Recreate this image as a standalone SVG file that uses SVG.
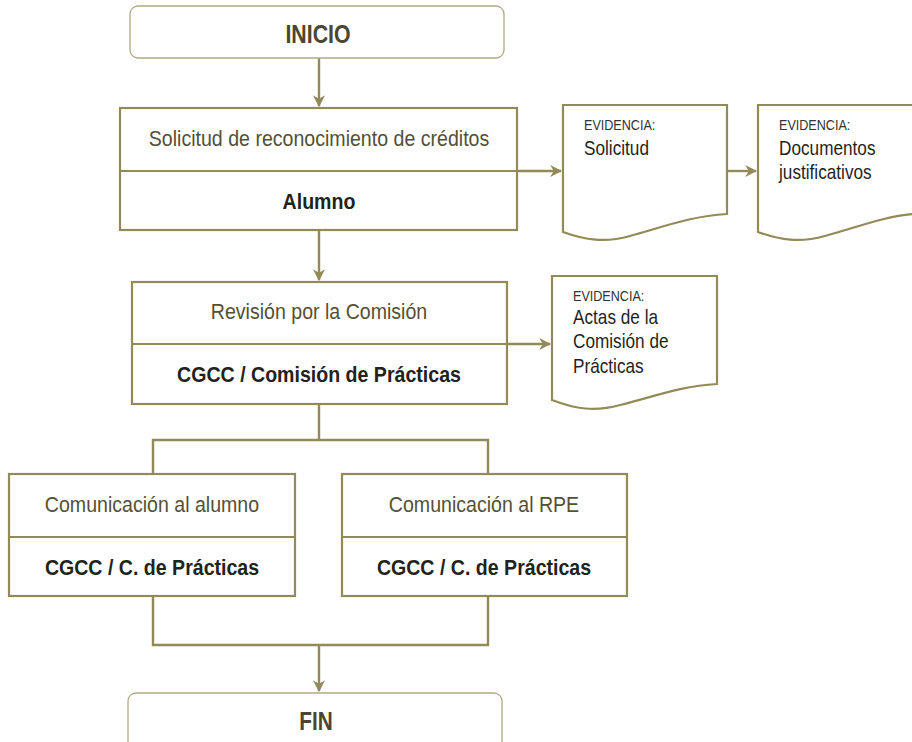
<svg xmlns="http://www.w3.org/2000/svg" width="912" height="742" viewBox="0 0 912 742">
<defs>
<style>
.term{fill:#fff;stroke:#b3aa82;stroke-width:1.3}
.box{fill:#fff;stroke:#928a58;stroke-width:2.2}
.doc{fill:#fff;stroke:#928a58;stroke-width:2.2}
.con{fill:none;stroke:#928a58;stroke-width:2.4}
text{font-family:"Liberation Sans",Arial,sans-serif}
.t1{font-size:22px;fill:#545035;text-anchor:middle}
.t2{font-size:22px;font-weight:bold;fill:#222219;text-anchor:middle}
.tt{font-size:26px;font-weight:bold;fill:#4b4631;text-anchor:middle}
.ev{font-size:14px;fill:#333}
.ed{font-size:20px;fill:#1f1f1f}
</style>
<marker id="ah" viewBox="0 0 10 10" refX="9" refY="5" markerWidth="5" markerHeight="5" orient="auto" markerUnits="strokeWidth">
<path d="M0,0 L10,5 L0,10 L3,5 z" fill="#928a58"/>
</marker>
</defs>
<g id="connectors">
<line class="con" x1="319" y1="58" x2="319" y2="106" marker-end="url(#ah)"/>
<line class="con" x1="319" y1="230" x2="319" y2="280" marker-end="url(#ah)"/>
<line class="con" x1="517" y1="171" x2="561" y2="171" marker-end="url(#ah)"/>
<line class="con" x1="727" y1="171" x2="756" y2="171" marker-end="url(#ah)"/>
<line class="con" x1="507" y1="344" x2="550" y2="344" marker-end="url(#ah)"/>
<polyline class="con" points="319,404 319,440"/>
<polyline class="con" points="153,474 153,440 488,440 488,474"/>
<polyline class="con" points="153,596 153,645 488,645 488,596"/>
<line class="con" x1="319" y1="645" x2="319" y2="691" marker-end="url(#ah)"/>
</g>
<g id="inicio">
<rect class="term" x="130" y="6" width="374" height="52" rx="8"/>
<text class="tt" transform="translate(318,43) scale(0.82,1)">INICIO</text>
</g>
<g id="solicitud">
<rect class="box" x="120" y="108" width="397" height="122"/>
<line class="box" x1="120" y1="171" x2="517" y2="171"/>
<text class="t1" transform="translate(319,146) scale(0.89,1)">Solicitud de reconocimiento de créditos</text>
<text class="t2" transform="translate(319,209) scale(0.89,1)">Alumno</text>
</g>
<g id="ev-solicitud">
<path class="doc" d="M563,105 H727 V214 C690,216 660,228 630,236 C605,243 585,240 563,232 Z"/>
<text class="ev" transform="translate(584,130) scale(0.9,1)">EVIDENCIA:</text>
<text class="ed" transform="translate(584,155) scale(0.86,1)">Solicitud</text>
</g>
<g id="ev-documentos">
<path class="doc" d="M758,105 H914 V214 C885,216 855,228 825,236 C800,243 780,240 758,232 Z"/>
<text class="ev" transform="translate(779,130) scale(0.9,1)">EVIDENCIA:</text>
<text class="ed" transform="translate(779,155) scale(0.86,1)">Documentos</text>
<text class="ed" transform="translate(779,179) scale(0.86,1)">justificativos</text>
</g>
<g id="revision">
<rect class="box" x="132" y="282" width="375" height="122"/>
<line class="box" x1="132" y1="344" x2="507" y2="344"/>
<text class="t1" transform="translate(319,319) scale(0.89,1)">Revisión por la Comisión</text>
<text class="t2" transform="translate(319,382) scale(0.89,1)">CGCC / Comisión de Prácticas</text>
</g>
<g id="ev-actas">
<path class="doc" d="M552,276 H717 V384 C680,386 650,398 620,405 C595,412 575,409 552,400 Z"/>
<text class="ev" transform="translate(573,301) scale(0.9,1)">EVIDENCIA:</text>
<text class="ed" transform="translate(573,324) scale(0.86,1)">Actas de la</text>
<text class="ed" transform="translate(573,348) scale(0.86,1)">Comisión de</text>
<text class="ed" transform="translate(573,373) scale(0.86,1)">Prácticas</text>
</g>
<g id="com-alumno">
<rect class="box" x="9" y="474" width="286" height="122"/>
<line class="box" x1="9" y1="537" x2="295" y2="537"/>
<text class="t1" transform="translate(152,512) scale(0.89,1)">Comunicación al alumno</text>
<text class="t2" transform="translate(152,575) scale(0.89,1)">CGCC / C. de Prácticas</text>
</g>
<g id="com-rpe">
<rect class="box" x="342" y="474" width="285" height="122"/>
<line class="box" x1="342" y1="537" x2="627" y2="537"/>
<text class="t1" transform="translate(484,512) scale(0.89,1)">Comunicación al RPE</text>
<text class="t2" transform="translate(484,575) scale(0.89,1)">CGCC / C. de Prácticas</text>
</g>
<g id="fin">
<rect class="term" x="128" y="693" width="374" height="70" rx="8"/>
<text class="tt" transform="translate(316,730) scale(0.8,1)">FIN</text>
</g>
</svg>
